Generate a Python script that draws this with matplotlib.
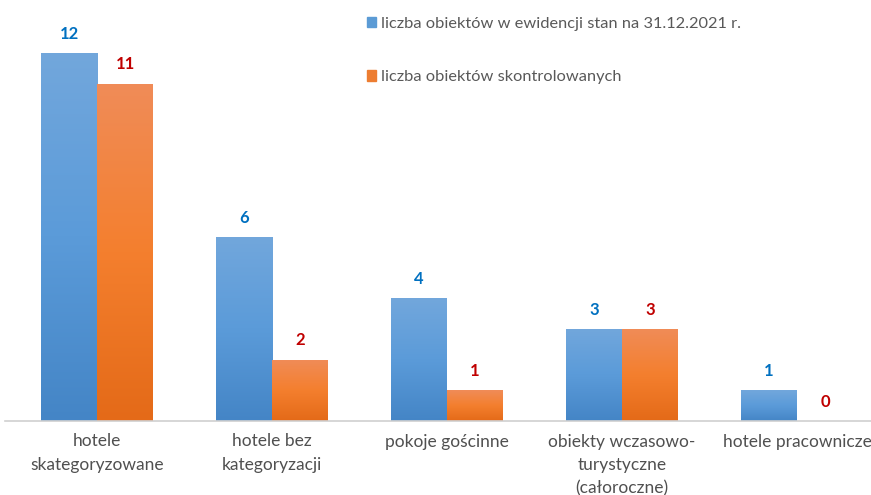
import numpy as np
import matplotlib
matplotlib.use("Agg")
import matplotlib.pyplot as plt
from matplotlib.colors import LinearSegmentedColormap
from matplotlib.patches import Patch

kategorie = ["hotele\nskategoryzowane", "hotele bez\nkategoryzacji", "pokoje gościnne",
             "obiekty wczasowo-\nturystyczne\n(całoroczne)", "hotele pracownicze"]
ewidencja = [12, 6, 4, 3, 1]
skontrolowane = [11, 2, 1, 3, 0]
seria = ["liczba obiektów w ewidencji stan na 31.12.2021 r.", "liczba obiektów skontrolowanych"]

plt.rcParams['font.family'] = ['Lato', 'DejaVu Sans']

fig = plt.figure(figsize=(8.71, 4.95), dpi=100)
ax = fig.add_axes([5 / 871, 74 / 495, 866 / 871, 421 / 495])

x = np.arange(len(kategorie))
w = 0.32
b1 = ax.bar(x - w / 2, ewidencja, w, color="#5b9bd5")
b2 = ax.bar(x + w / 2, skontrolowane, w, color="#f07f2c")

# gradient fill (light at top, darker at bottom)
grad = np.linspace(0, 1, 256).reshape(-1, 1)
cm_blue = LinearSegmentedColormap.from_list("b", ["#72a7dc", "#5b9bd9", "#4485c6"])
cm_orange = LinearSegmentedColormap.from_list("o", ["#f08c58", "#f47f2e", "#e46a18"])
for bars, cm in [(b1, cm_blue), (b2, cm_orange)]:
    for r in bars:
        h = r.get_height()
        if h == 0:
            continue
        x0 = r.get_x()
        im = ax.imshow(grad, cmap=cm, aspect="auto", origin="upper",
                       extent=[x0, x0 + r.get_width(), 0, h], zorder=2)
        im.set_clip_path(r)

for r, v in zip(b1, ewidencja):
    ax.annotate(str(v), (r.get_x() + r.get_width() / 2, v), xytext=(0, 14),
                textcoords="offset points", ha="center", va="center",
                fontsize=12, fontweight="bold", color="#0070c0")
for r, v in zip(b2, skontrolowane):
    ax.annotate(str(v), (r.get_x() + r.get_width() / 2, v), xytext=(0, 14),
                textcoords="offset points", ha="center", va="center",
                fontsize=12, fontweight="bold", color="#c00000")

ax.set_xlim((5 - 97) / 175, (871 - 97) / 175)
ax.set_ylim(0, 421 / 30.67)
ax.set_yticks([])
ax.set_xticks(x)
ax.set_xticklabels(kategorie, fontsize=12.5, color="#505050", linespacing=1.55)
ax.tick_params(axis="x", length=0, pad=9)
for s in ["top", "right", "left"]:
    ax.spines[s].set_visible(False)
ax.spines["bottom"].set_color("#d0d0d0")
ax.spines["bottom"].set_linewidth(1.2)

handles = [Patch(color="#5b9bd5"), Patch(color="#ed7d31")]
leg = fig.legend(handles, seria, loc="upper left", bbox_to_anchor=(352 / 871, 1 - 2 / 495),
                 frameon=False, fontsize=11.75, labelspacing=2.42, handlelength=0.55,
                 handleheight=0.6, handletextpad=0.35)
for t in leg.get_texts():
    t.set_color("#595959")

fig.savefig("out.png", dpi=100)
